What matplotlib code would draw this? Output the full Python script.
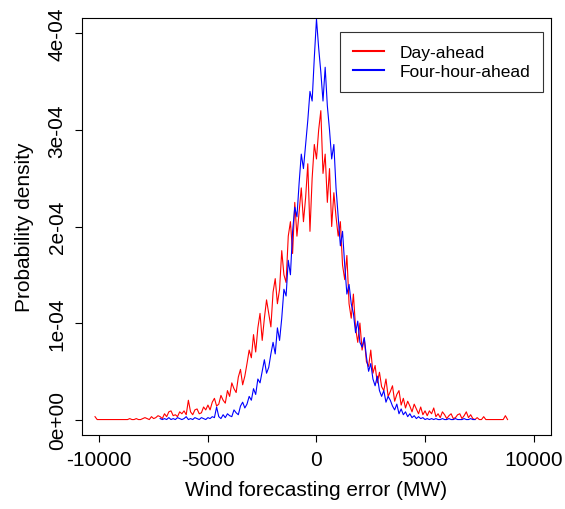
import numpy as np
import matplotlib
matplotlib.use('Agg')
import matplotlib.pyplot as plt

plt.rcParams['font.family'] = ['Liberation Sans', 'DejaVu Sans']

# histogram bins, 100 MW wide
bin_step = 100
day_start, day_stop = -10200, 8800
four_start, four_stop = -7200, 7300

# density values in units of 1e-5
day_ahead_e5 = [
    0.3, 0.0,
    0.0, 0.0, 0.0, 0.0, 0.0, 0.0, 0.0, 0.0, 0.0, 0.0, 0.0, 0.0, 0.0, 0.0,
    0.1, 0.0, 0.0, 0.1, 0.0, 0.0, 0.1, 0.2, 0.1, 0.0, 0.3, 0.1, 0.2, 0.4, 0.3, 0.1,
    0.6, 0.3, 0.8, 0.9, 0.4, 0.5, 0.3, 0.8, 0.6, 0.9, 0.5, 2.0, 0.8, 0.5, 1.0, 1.1,
    0.6, 0.7, 1.3, 1.0, 1.5,
    1.0, 1.8, 2.2, 1.4, 1.6, 2.5, 2.0, 1.7, 3.0, 2.4, 3.8, 3.2, 2.8, 4.4, 5.2, 3.6,
    4.5, 5.8, 7.2, 6.4,
    8.8, 7.0, 9.5, 11.0, 8.2, 10.5, 12.4, 11.0, 9.6, 13.2, 14.6, 12.0, 13.5, 17.5,
    15.0, 14.2, 19.0, 20.5, 17.2, 22.5,
    19.0, 21.5, 24.0, 20.5, 23.0, 26.5, 19.5, 25.0, 28.5, 27.0,
    30.0, 32.0, 25.5, 27.5, 22.5, 26.0, 20.0, 23.5, 21.0, 19.0,
    20.5, 16.0, 14.5, 17.0, 12.0, 10.5, 13.0, 9.5, 8.0, 10.0, 7.2, 8.4, 6.0, 5.5,
    7.2, 4.8, 5.6, 3.8, 4.9, 3.4,
    3.0, 4.2, 2.4, 2.9, 3.5, 1.9, 2.6, 3.0, 1.5, 2.2, 1.2, 1.9, 1.4, 0.8, 1.6,
    1.1, 0.6, 1.3, 0.5, 0.9,
    0.4, 0.9, 0.6, 1.2, 0.3, 0.6, 0.2, 0.8, 0.5, 0.1, 0.4, 0.6, 0.1, 0.2, 0.5,
    0.6, 0.1, 0.4, 0.8, 0.2,
    0.5, 0.1, 0.0, 0.2, 0.0, 0.0, 0.3, 0.0, 0.0, 0.0, 0.0, 0.0, 0.0, 0.0, 0.0,
    0.0, 0.4, 0.0,
]

four_hour_e5 = [
    0.1, 0.0, 0.1, 0.0, 0.2, 0.0, 0.1, 0.0, 0.2, 0.1, 0.0, 0.1, 0.3, 0.0, 0.1,
    0.0, 0.2, 0.1, 0.0, 0.2, 0.1, 0.0, 0.2,
    0.1, 0.3, 0.2, 1.3, 0.3, 0.1, 0.5, 0.2, 0.6, 0.4, 0.3, 1.0, 0.7, 0.5, 1.4,
    1.8, 1.2, 1.6, 2.4, 2.0,
    3.2, 2.6, 4.2, 3.8, 5.0, 6.2, 4.8, 5.4, 6.8, 8.0, 6.8, 9.5, 8.2, 10.5, 13.5,
    12.8, 16.5, 15.0, 19.5, 22.0,
    21.0, 24.5, 27.5, 26.0, 28.5, 31.0, 34.0, 33.0, 37.5, 41.5,
    38.5, 36.0, 33.0, 36.5, 32.5, 30.0, 27.0, 28.5, 24.0, 21.0,
    18.0, 19.5, 16.0, 13.0, 14.0, 12.0, 11.0, 9.0, 10.2, 8.0, 7.5, 8.5, 6.5, 5.0,
    5.8, 4.2, 3.5, 4.5, 3.0, 2.4,
    3.0, 1.8, 2.4, 2.0, 1.4, 1.0, 1.6, 0.6, 1.1, 0.5, 0.8, 0.3, 0.6, 0.2, 0.4,
    0.1, 0.3, 0.1, 0.2, 0.0,
    0.1, 0.0, 0.1, 0.0, 0.1, 0.0, 0.0, 0.1, 0.0, 0.0, 0.1, 0.0, 0.0, 0.1, 0.0,
    0.0, 0.0, 0.1, 0.0, 0.0, 0.1, 0.0, 0.0,
]

x_ticks = [-10000, -5000, 0, 5000, 10000]
x_tick_labels = ['-10000', '-5000', '0', '5000', '10000']
y_ticks = [0, 1e-4, 2e-4, 3e-4, 4e-4]
y_tick_labels = ['0e+00', '1e-04', '2e-04', '3e-04', '4e-04']
series_names = ['Day-ahead', 'Four-hour-ahead']

x_day = np.arange(day_start, day_stop + 1, bin_step)
x_four = np.arange(four_start, four_stop + 1, bin_step)
y_day = np.array(day_ahead_e5) * 1e-5
y_four = np.array(four_hour_e5) * 1e-5

fig = plt.figure(figsize=(5.65, 5.1), dpi=100)
ax = fig.add_axes([0.1451, 0.1451, 0.8301, 0.8176])

ax.plot(x_day, y_day, color='#ff0000', lw=0.8, label=series_names[0])
ax.plot(x_four, y_four, color='#0000ff', lw=0.8, label=series_names[1])

# R-style axis ranges (4% padding)
ax.set_xlim(-10800, 10800)
ax.set_ylim(-0.16e-4, 4.16e-4)

ax.set_xticks(x_ticks)
ax.set_xticklabels(x_tick_labels, fontsize=15)
ax.set_yticks(y_ticks)
ax.set_yticklabels(y_tick_labels, fontsize=15, rotation=90, va='center')
ax.tick_params(direction='out', length=5, width=0.8, pad=6)

ax.set_xlabel('Wind forecasting error (MW)', fontsize=15, labelpad=8)
ax.set_ylabel('Probability density', fontsize=15, labelpad=10)

for s in ax.spines.values():
    s.set_linewidth(0.8)

leg = ax.legend(loc='upper right', bbox_to_anchor=(0.983, 0.966), borderaxespad=0,
                fontsize=12.5, fancybox=False, edgecolor='#333333', framealpha=1,
                handlelength=1.8, handletextpad=0.85, labelspacing=0.2, borderpad=0.75)
leg.get_frame().set_linewidth(0.8)
for line in leg.get_lines():
    line.set_linewidth(1.5)

fig.savefig('out.png', dpi=100)
